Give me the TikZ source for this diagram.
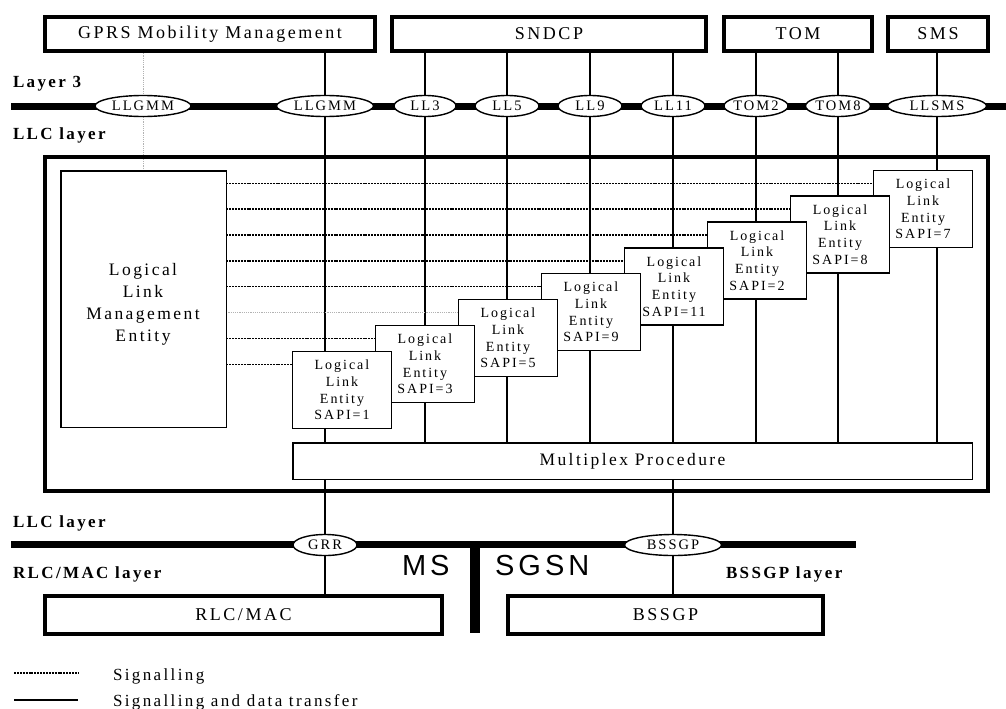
\documentclass[tikz,border=0pt]{standalone}
\usepackage{fontspec}
\setmainfont{Liberation Serif}[LetterSpace=14]
\setsansfont{Liberation Sans}[LetterSpace=14]
\usetikzlibrary{shapes.geometric,backgrounds}
\begin{document}
\begin{tikzpicture}[x=1pt,y=-1pt,
  every node/.style={inner sep=0pt, outer sep=0pt},
  topbox/.style={draw, line width=4pt, fill=white, minimum height=34pt,
    font=\fontsize{18}{21}\selectfont},
  framebox/.style={draw, line width=4pt},
  sap/.style={draw, ellipse, line width=1.4pt, fill=white, minimum height=21pt,
    font=\fontsize{14.5}{16}\selectfont},
  entity/.style={draw, line width=1.5pt, fill=white, minimum width=99pt,
    minimum height=77pt, align=center, font=\fontsize{14}{16.7}\selectfont},
  thinbox/.style={draw, line width=1.5pt, fill=white},
  layerlabel/.style={anchor=base west, font=\fontsize{17}{20}\selectfont\bfseries},
  nodetext/.style={font=\fontsize{17.5}{22}\selectfont},
  bigtext/.style={anchor=base west, font=\fontsize{29}{32}\selectfont\sffamily},
  legendtext/.style={anchor=base west, font=\fontsize{17}{20}\selectfont},
  bus/.style={line width=7pt},
  link/.style={line width=1.3pt},
  sig/.style={line width=1.8pt, dash pattern=on 2pt off 0.9pt},
  faintsig/.style={line width=0.8pt, gray!60, dash pattern=on 1.2pt off 1pt}]
\useasboundingbox (0,0) rectangle (1006,709);

% layer 3 entities
\node[topbox, minimum width=330pt] (gmm)   at (210,34)   {GPRS Mobility Management};
\node[topbox, minimum width=314pt] (sndcp) at (549,34)   {SNDCP};
\node[topbox, minimum width=148pt] (tom)   at (798,34)   {TOM};
\node[topbox, minimum width=100pt] (sms)   at (938,34)   {SMS};

% layer labels
\node[layerlabel] (lay3) at (13,88)  {Layer 3};
\node[layerlabel] (llcu) at (13,139) {LLC layer};
\node[layerlabel] (llcl) at (13,527) {LLC layer};
\node[layerlabel] (rlcl) at (13,578) {RLC/MAC layer};
\node[layerlabel] (bssl) at (726,578) {BSSGP layer};

% service access points on the layer 3 / LLC boundary
\coordinate (l3w) at (11,106);
\coordinate (l3e) at (1006,106);
\node[sap, minimum width=96pt] (sap0)  at (143,106) {LLGMM};
\node[sap, minimum width=97pt] (sap1)  at (325,106) {LLGMM};
\node[sap, minimum width=62pt] (sap3)  at (425,106) {LL3};
\node[sap, minimum width=64pt] (sap5)  at (507,106) {LL5};
\node[sap, minimum width=64pt] (sap9)  at (590,106) {LL9};
\node[sap, minimum width=64pt] (sap11) at (673,106) {LL11};
\node[sap, minimum width=63pt] (sap2)  at (756,106) {TOM2};
\node[sap, minimum width=65pt] (sap8)  at (838,106) {TOM8};
\node[sap, minimum width=99pt] (sap7)  at (937,106) {LLSMS};

% LLC layer frame
\node[framebox, minimum width=943pt, minimum height=334pt] (llc) at (516.5,324) {};

% logical link management entity
\node[thinbox, minimum width=165.5pt, minimum height=256.5pt] (llme) at (143.5,299) {};
\node[nodetext, align=center] (llmetxt) at (143,304) {Logical\\Link\\Management\\Entity};

% logical link entities (drawn back to front)
\node[entity] (e7)  at (923,209)   {Logical\\Link\\Entity\\SAPI=7};
\node[entity] (e8)  at (840,234.5) {Logical\\Link\\Entity\\SAPI=8};
\node[entity] (e2)  at (757,260.5) {Logical\\Link\\Entity\\SAPI=2};
\node[entity] (e11) at (674,286.5) {Logical\\Link\\Entity\\SAPI=11};
\node[entity] (e9)  at (591,312)   {Logical\\Link\\Entity\\SAPI=9};
\node[entity] (e5)  at (508,338)   {Logical\\Link\\Entity\\SAPI=5};
\node[entity] (e3)  at (425,364)   {Logical\\Link\\Entity\\SAPI=3};
\node[entity] (e1)  at (342,390)   {Logical\\Link\\Entity\\SAPI=1};

% multiplexer
\node[thinbox, minimum width=679.5pt, minimum height=36.5pt, nodetext] (mux) at (632.5,461) {Multiplex Procedure};

% lower boundary
\coordinate (llw) at (11,544);
\coordinate (lle) at (856,544);
\coordinate (sept) at (475,544);
\coordinate (sepb) at (475,633);
\node[sap, minimum width=64pt] (grr)   at (325,545) {GRR};
\node[sap, minimum width=97pt] (bssgp) at (673,545) {BSSGP};
\node[bigtext] (ms)   at (402,575) {MS};
\node[bigtext] (sgsn) at (495,575) {SGSN};

% lower layer entities
\node[topbox, minimum width=397pt, minimum height=38pt] (rlc) at (243.5,615) {RLC/MAC};
\node[topbox, minimum width=315pt, minimum height=38pt] (bss) at (665.5,615) {BSSGP};

% legend
\coordinate (lga) at (14,673);
\coordinate (lgb) at (78,673);
\coordinate (lgc) at (14,700);
\coordinate (lgd) at (78,700);
\node[legendtext] (lgsig) at (113,680) {Signalling};
\node[legendtext] (lgdat) at (113,706) {Signalling and data transfer};

% signalling ends on each entity
\foreach \e in {e7,e8,e2,e11,e9,e3,e1}
  \coordinate (d\e) at ([yshift=-13pt]\e.north west);
\coordinate (de5) at ([yshift=-13pt]e5.north west);

\begin{scope}[on background layer]
  \draw[bus] (l3w) -- (l3e);
  \draw[bus] (llw) -- (lle);
  \draw[line width=10pt] (sept) -- (sepb);
  % primitives between layer 3 and the link entities
  \draw[link] (gmm.south -| sap1) -- (grr.center);
  \draw[link] (grr.center) -- (rlc.north -| grr);
  \draw[link] (sndcp.south -| sap3) -- (mux.north -| sap3);
  \draw[link] (sndcp.south -| sap5) -- (mux.north -| sap5);
  \draw[link] (sndcp.south -| sap9) -- (mux.north -| sap9);
  \draw[link] (sndcp.south -| sap11) -- (bssgp.center);
  \draw[link] (bssgp.center) -- (bss.north -| bssgp);
  \draw[link] (tom.south -| sap2) -- (mux.north -| sap2);
  \draw[link] (tom.south -| sap8) -- (mux.north -| sap8);
  \draw[link] (sms.south -| sap7) -- (mux.north -| sap7);
  \draw[faintsig] (gmm.south -| sap0) -- (llme.north -| sap0);
  % management signalling to each entity
  \foreach \e in {e7,e8,e2,e11,e9,e3,e1}
    \draw[sig] (llme.east |- d\e) -- (d\e);
  \draw[faintsig] (llme.east |- de5) -- (de5);
  % legend samples
  \draw[sig] (lga) -- (lgb);
  \draw[link] (lgc) -- (lgd);
\end{scope}
\end{tikzpicture}
\end{document}
